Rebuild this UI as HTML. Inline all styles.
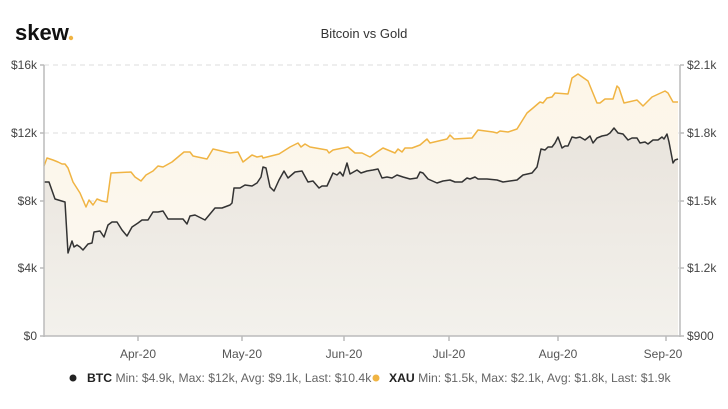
<!DOCTYPE html>
<html><head><meta charset="utf-8"><style>
body{margin:0;background:#fff;width:728px;height:404px;overflow:hidden;font-family:"Liberation Sans",sans-serif}
</style></head><body>
<svg width="728" height="404" viewBox="0 0 728 404" xmlns="http://www.w3.org/2000/svg" font-family="Liberation Sans, sans-serif">
<defs>
<linearGradient id="gx" x1="0" y1="0" x2="0" y2="1"><stop offset="0" stop-color="#fdf6e8"/><stop offset="1" stop-color="#fbf8f2"/></linearGradient>
<linearGradient id="gb" x1="0" y1="0" x2="0" y2="1"><stop offset="0" stop-color="#e9e4dd"/><stop offset="1" stop-color="#f3f1ec"/></linearGradient>
</defs>
<text x="15" y="40" font-size="22" font-weight="bold" fill="#111">skew</text><circle cx="71" cy="38" r="2.2" fill="#f0b443"/>
<text x="364" y="38" font-size="13" fill="#333" text-anchor="middle">Bitcoin vs Gold</text>
<g stroke="#ddd" stroke-dasharray="5,4" stroke-width="1">
<line x1="44" y1="65" x2="680" y2="65"/><line x1="44" y1="133" x2="680" y2="133"/><line x1="44" y1="201" x2="680" y2="201"/><line x1="44" y1="268" x2="680" y2="268"/>
</g>
<polygon fill="url(#gx)" points="44,336 44,166 47,158 53,160 58,162 62,164 65,164 68,168 73,182 80,193 86,207 89,200 93,205 97,199 102,201 107,202 111,173 131,172 135,177 141,181 146,175 153,171 158,166 163,167 172,162 184,152 190,152 193,156 207,159 213,149 230,153 238,152 243,162 252,155 257,157 262,156 263,158 279,154 290,147 298,143 301,147 305,144 310,147 327,150 329,153 333,150 348,147 355,153 362,153 370,157 377,152 383,148 395,153 398,149 402,152 405,148 412,148 420,145 427,139 430,143 447,139 450,135 454,139 472,138 478,130 493,132 497,133 500,131 508,132 517,129 527,113 533,108 540,102 543,103 547,98 552,97 555,93 568,94 572,78 578,74 588,81 597,103 600,103 605,99 613,99 617,86 619,88 624,103 637,100 643,106 652,97 665,91 668,93 673,102 678,102 678,336"/>
<polygon fill="url(#gb)" points="44,336 44,182 49,182 55,199 65,202 68,253 72,241 74,247 77,245 80,247 83,250 88,244 92,243 94,232 100,231 104,237 108,225 112,222 117,222 122,230 127,236 132,227 138,223 142,220 148,220 153,212 158,212 163,211 168,219 183,219 187,224 190,216 195,215 205,220 215,208 222,208 230,205 232,203 234,188 240,188 245,185 252,186 257,183 261,177 263,167 266,168 270,187 274,191 279,180 284,171 288,178 295,172 302,171 308,182 313,181 319,188 322,186 327,186 333,173 337,175 340,172 343,176 347,163 350,174 357,170 361,173 367,171 373,170 378,169 382,178 387,177 392,178 397,175 403,177 410,179 417,178 420,172 423,173 428,179 437,183 443,181 450,180 455,182 462,182 467,178 470,179 475,177 478,179 487,179 497,180 503,182 517,180 523,175 532,173 537,167 541,149 545,150 548,147 552,147 555,143 558,137 562,148 565,146 568,146 572,137 576,138 580,137 585,140 590,136 593,143 597,138 602,136 607,135 610,133 614,128 618,133 623,134 628,140 632,138 637,138 640,143 645,142 648,144 653,140 658,140 662,137 664,139 667,134 669,142 673,163 675,160 678,159 678,336"/>
<polyline fill="none" stroke="#f0b443" stroke-width="1.5" stroke-linejoin="round" points="44,166 47,158 53,160 58,162 62,164 65,164 68,168 73,182 80,193 86,207 89,200 93,205 97,199 102,201 107,202 111,173 131,172 135,177 141,181 146,175 153,171 158,166 163,167 172,162 184,152 190,152 193,156 207,159 213,149 230,153 238,152 243,162 252,155 257,157 262,156 263,158 279,154 290,147 298,143 301,147 305,144 310,147 327,150 329,153 333,150 348,147 355,153 362,153 370,157 377,152 383,148 395,153 398,149 402,152 405,148 412,148 420,145 427,139 430,143 447,139 450,135 454,139 472,138 478,130 493,132 497,133 500,131 508,132 517,129 527,113 533,108 540,102 543,103 547,98 552,97 555,93 568,94 572,78 578,74 588,81 597,103 600,103 605,99 613,99 617,86 619,88 624,103 637,100 643,106 652,97 665,91 668,93 673,102 678,102"/>
<polyline fill="none" stroke="#333" stroke-width="1.5" stroke-linejoin="round" points="44,182 49,182 55,199 65,202 68,253 72,241 74,247 77,245 80,247 83,250 88,244 92,243 94,232 100,231 104,237 108,225 112,222 117,222 122,230 127,236 132,227 138,223 142,220 148,220 153,212 158,212 163,211 168,219 183,219 187,224 190,216 195,215 205,220 215,208 222,208 230,205 232,203 234,188 240,188 245,185 252,186 257,183 261,177 263,167 266,168 270,187 274,191 279,180 284,171 288,178 295,172 302,171 308,182 313,181 319,188 322,186 327,186 333,173 337,175 340,172 343,176 347,163 350,174 357,170 361,173 367,171 373,170 378,169 382,178 387,177 392,178 397,175 403,177 410,179 417,178 420,172 423,173 428,179 437,183 443,181 450,180 455,182 462,182 467,178 470,179 475,177 478,179 487,179 497,180 503,182 517,180 523,175 532,173 537,167 541,149 545,150 548,147 552,147 555,143 558,137 562,148 565,146 568,146 572,137 576,138 580,137 585,140 590,136 593,143 597,138 602,136 607,135 610,133 614,128 618,133 623,134 628,140 632,138 637,138 640,143 645,142 648,144 653,140 658,140 662,137 664,139 667,134 669,142 673,163 675,160 678,159"/>
<g stroke="#bbb" stroke-width="1.5" fill="none">
<line x1="44" y1="65" x2="44" y2="337"/><line x1="680" y1="65" x2="680" y2="337"/><line x1="44" y1="336" x2="680" y2="336"/>
<line x1="40" y1="65" x2="44" y2="65"/><line x1="40" y1="133" x2="44" y2="133"/><line x1="40" y1="201" x2="44" y2="201"/><line x1="40" y1="268" x2="44" y2="268"/><line x1="40" y1="336" x2="44" y2="336"/>
<line x1="680" y1="65" x2="684" y2="65"/><line x1="680" y1="133" x2="684" y2="133"/><line x1="680" y1="201" x2="684" y2="201"/><line x1="680" y1="268" x2="684" y2="268"/><line x1="680" y1="336" x2="684" y2="336"/>
<line x1="138" y1="336" x2="138" y2="341"/><line x1="242" y1="336" x2="242" y2="341"/><line x1="344" y1="336" x2="344" y2="341"/><line x1="449" y1="336" x2="449" y2="341"/><line x1="558" y1="336" x2="558" y2="341"/><line x1="666" y1="336" x2="666" y2="341"/>
</g>
<g font-size="12" fill="#444" text-anchor="end">
<text x="37" y="69">$16k</text><text x="37" y="137">$12k</text><text x="37" y="205">$8k</text><text x="37" y="272">$4k</text><text x="37" y="340">$0</text>
</g>
<g font-size="12" fill="#444">
<text x="687" y="69">$2.1k</text><text x="687" y="137">$1.8k</text><text x="687" y="205">$1.5k</text><text x="687" y="272">$1.2k</text><text x="687" y="340">$900</text>
</g>
<g font-size="12" fill="#555" text-anchor="middle">
<text x="138" y="358">Apr-20</text><text x="242" y="358">May-20</text><text x="344" y="358">Jun-20</text><text x="449" y="358">Jul-20</text><text x="558" y="358">Aug-20</text><text x="663" y="358">Sep-20</text>
</g>
<circle cx="73" cy="378" r="3.5" fill="#222"/>
<text x="87" y="382" font-size="12.2" fill="#666"><tspan font-weight="bold" fill="#222">BTC</tspan> Min: $4.9k, Max: $12k, Avg: $9.1k, Last: $10.4k</text>
<circle cx="376" cy="378" r="3.5" fill="#f0b443"/>
<text x="389" y="382" font-size="12.2" fill="#666"><tspan font-weight="bold" fill="#222">XAU</tspan> Min: $1.5k, Max: $2.1k, Avg: $1.8k, Last: $1.9k</text>
</svg>
</body></html>
